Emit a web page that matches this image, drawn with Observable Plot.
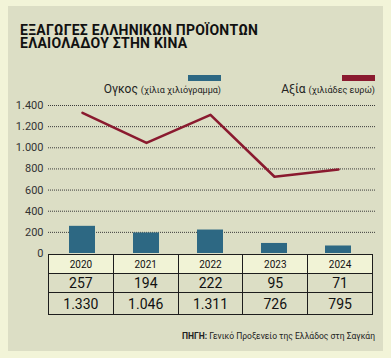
<!DOCTYPE html>
<html><head><meta charset="utf-8">
<script src="https://cdn.jsdelivr.net/npm/d3@7"></script>
<script src="https://cdn.jsdelivr.net/npm/@observablehq/plot@0.6"></script>
<style>
html,body{margin:0;padding:0;background:#f2f4d8;width:391px;height:358px;overflow:hidden;font-family:Roboto,"Noto Sans",sans-serif;}
#panel{position:absolute;left:8px;top:6px;width:375px;height:345px;background:#dcdec5;}
.tl{position:absolute;left:20px;font-weight:700;font-size:14px;line-height:13px;height:13px;color:#111;letter-spacing:0.25px;white-space:nowrap;}
.sw{position:absolute;top:75px;width:33px;height:6px;}
.lg{position:absolute;top:82px;font-size:12px;color:#222;white-space:nowrap;}
.lg small{font-size:9px;}
#chart{position:absolute;left:0;top:95px;}
#tbl{position:absolute;left:48px;top:254px;border-collapse:collapse;width:325px;table-layout:fixed;}
#tbl td{border:1.5px solid #1d1d1d;text-align:center;color:#111;padding:0;}
#tbl tr.yr td{background:#f1f3d6;font-size:10px;height:18px;}
#tbl tr.v1 td{background:#dcdec5;font-size:14px;height:18px;}
#tbl tr.v2 td{background:#dcdec5;font-size:14px;height:21px;}
#src{position:absolute;right:16px;top:331px;font-size:8.5px;color:#222;white-space:nowrap;}
</style></head>
<body>
<div id="panel"></div>
<div class="tl" style="top:24px">ΕΞΑΓΩΓΕΣ ΕΛΛΗΝΙΚΩΝ ΠΡΟΪΟΝΤΩΝ</div>
<div class="tl" style="top:37px">ΕΛΑΙΟΛΑΔΟΥ ΣΤΗΝ ΚΙΝΑ</div>
<div class="sw" style="left:188px;background:#2d6883"></div>
<div class="lg" style="right:170px">Ογκος <small>(χίλια χιλιόγραμμα)</small></div>
<div class="sw" style="left:342px;background:#8a1a2f"></div>
<div class="lg" style="right:16px">Αξία <small>(χιλιάδες ευρώ)</small></div>
<div id="chart"></div>
<table id="tbl"></table>
<div id="src"><b>ΠΗΓΗ:</b> Γενικό Προξενείο της Ελλάδος στη Σαγκάη</div>
<script>
const years = ["2020","2021","2022","2023","2024"];
const volume = [257,194,222,95,71];
const value = [1330,1046,1311,726,795];
const yTicks = [0,200,400,600,800,1000,1200,1400];

const fmt = d => d3.format(",")(d).replace(/,/g,".");
const data = years.map((y,i)=>({year:y, volume:volume[i], value:value[i]}));

const chart = Plot.plot({
  width:391, height:166, marginTop:10, marginBottom:8, marginLeft:49, marginRight:20,
  style:{background:"transparent", fontFamily:"Roboto, sans-serif", color:"#333"},
  x:{domain:years, paddingInner:0.6, paddingOuter:0.3, axis:null},
  y:{domain:[0,1400]},
  marks:[
    Plot.ruleY(yTicks.filter(d=>d>0),{stroke:"#3a3a3a", strokeWidth:1, strokeDasharray:"1,1", insetLeft:-1, insetRight:-4}),
    Plot.barY(data,{x:"year", y:"volume", fill:"#2d6883"}),
    Plot.lineY(data,{x:"year", y:"value", stroke:"#8a1a2f", strokeWidth:2.6}),
    Plot.axisY(yTicks,{tickFormat:fmt, tickSize:0, tickPadding:6, fontSize:11, label:null, fill:"#333"})
  ]
});
document.getElementById("chart").appendChild(chart);

const tbl = document.getElementById("tbl");
const rows = [["yr", years], ["v1", volume.map(fmt)], ["v2", value.map(fmt)]];
for (const [cls, vals] of rows) {
  const tr = document.createElement("tr");
  tr.className = cls;
  for (const v of vals) { const td = document.createElement("td"); td.textContent = v; tr.appendChild(td); }
  tbl.appendChild(tr);
}
</script>
</body></html>
